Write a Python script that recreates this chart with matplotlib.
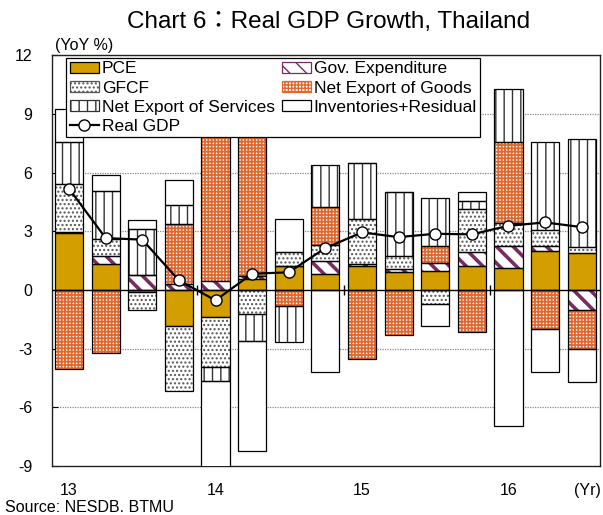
import matplotlib
matplotlib.use("Agg")
import matplotlib.pyplot as plt
import numpy as np

plt.rcParams["font.family"] = ["Liberation Sans", "Noto Sans CJK JP", "DejaVu Sans"]
plt.rcParams["axes.unicode_minus"] = False
plt.rcParams["hatch.linewidth"] = 1.0

quarters = ["13Q1", "13Q2", "13Q3", "13Q4", "14Q1", "14Q2", "14Q3", "14Q4",
            "15Q1", "15Q2", "15Q3", "15Q4", "16Q1", "16Q2", "16Q3"]
year_labels = ["13", "14", "15", "16"]

pce = [2.91, 1.33, -0.10, -1.86, -1.38, 0.56, 1.20, 0.83, 1.24, 0.90, 0.98, 1.24, 1.12, 2.00, 1.89]
gov = [0.05, 0.42, 0.75, 0.30, 0.44, 0.13, 0.00, 0.63, 0.07, 0.17, 0.40, 0.70, 1.10, 0.26, -1.04]
gfcf = [2.46, 0.85, -0.90, -3.31, -2.57, -1.22, 0.74, 0.85, 2.31, 0.64, -0.70, 2.21, 1.20, 0.82, 0.30]
net_goods = [-4.03, -3.21, 0.00, 3.07, 9.20, 8.37, -0.80, 1.92, -3.52, -2.28, 0.84, -2.14, 4.16, -1.99, -1.97]
net_services = [2.13, 2.47, 2.36, 0.98, -0.68, -1.40, -1.87, 2.13, 2.86, 3.27, 2.47, 0.42, 2.69, 4.47, 5.51]
inventories = [1.70, 0.81, 0.48, 1.28, -5.60, -5.61, 1.68, -4.18, 0.00, 0.00, -1.12, 0.41, -6.96, -2.19, -1.68]
real_gdp = [5.17, 2.65, 2.57, 0.49, -0.53, 0.83, 0.90, 2.14, 2.94, 2.70, 2.87, 2.84, 3.28, 3.45, 3.21]

# label, values, face, hatch, hatch colour, hatch width
series = [
    ("PCE", pce, "#D39E00", None, None, 1.0),
    ("Gov. Expenditure", gov, "white", "\\\\", "#7A2B63", 2.6),
    ("GFCF", gfcf, "white", "....", "#555555", 1.0),
    ("Net Export of Goods", net_goods, "white", "+++++", "#E0672E", 1.25),
    ("Net Export of Services", net_services, "white", "||", "#333333", 1.0),
    ("Inventories+Residual", inventories, "white", None, None, 1.0),
]

fig = plt.figure(figsize=(6.03, 5.15), dpi=100)
ax = fig.add_axes([0.086, 0.095, 0.909, 0.798])

x = np.arange(len(quarters))
width = 0.77
pos_base = np.zeros(len(x))
neg_base = np.zeros(len(x))
handles = {}
for label, vals, face, hatch, hcol, hlw in series:
    vals = np.array(vals)
    bottom = np.where(vals >= 0, pos_base, neg_base)
    with plt.rc_context({"hatch.linewidth": hlw}):
        if hatch:
            ax.bar(x, vals, width, bottom=bottom, color=face, hatch=hatch,
                   edgecolor=hcol, linewidth=0, zorder=3)
        else:
            ax.bar(x, vals, width, bottom=bottom, color=face, linewidth=0, zorder=3)
        handles[label] = plt.Rectangle((0, 0), 1, 1, facecolor=face, hatch=hatch,
                                       edgecolor=hcol if hcol else "black", linewidth=0.9)
    ax.bar(x, vals, width, bottom=bottom, facecolor="none",
           edgecolor="black", linewidth=0.9, zorder=4)
    pos_base += np.where(vals >= 0, vals, 0)
    neg_base += np.where(vals < 0, vals, 0)

line, = ax.plot(x, real_gdp, color="black", linewidth=1.6, marker="o",
                markersize=8, markerfacecolor="white", markeredgecolor="black",
                markeredgewidth=1.0, zorder=6, label="Real GDP")

ax.axhline(0, color="black", linewidth=1.0, zorder=5)
ax.vlines([3.5, 7.5, 11.5], -0.25, 0.25, color="black", linewidth=1.0, zorder=5)

ax.set_xlim(-0.47, 14.5)
ax.set_ylim(-9, 12)
ax.set_yticks(np.arange(-9, 13, 3))
ax.tick_params(axis="y", direction="in", length=4, labelsize=11.5, pad=14)
ax.set_xticks([0, 4, 8, 12])
ax.set_xticklabels(year_labels)
ax.tick_params(axis="x", length=0, labelsize=11.5, pad=12)
for yv in [-6, -3, 3, 6, 9, 12]:
    ax.axhline(yv, color="#888888", linewidth=0.9, linestyle=(0, (1, 1)), zorder=1)
for sp in ax.spines.values():
    sp.set_linewidth(1.0)
    sp.set_color("#222222")

order = ["PCE", "GFCF", "Net Export of Services", "Real GDP",
         "Gov. Expenditure", "Net Export of Goods", "Inventories+Residual"]
hdl = [line if k == "Real GDP" else handles[k] for k in order]
leg = ax.legend(hdl, order, ncol=2, loc="upper left", bbox_to_anchor=(0.026, 0.993),
                fontsize=12.5, frameon=True, fancybox=False, edgecolor="black",
                framealpha=1, borderpad=0.2, labelspacing=0.24, handlelength=1.7,
                handleheight=0.6, handletextpad=0.15, columnspacing=0.4, borderaxespad=0)
leg.get_frame().set_linewidth(0.9)
leg.set_zorder(10)

fig.text(0.545, 0.957, "Chart 6：Real GDP Growth, Thailand", ha="center", va="center",
         fontsize=17.5)
fig.text(0.092, 0.912, "(YoY %)", ha="left", va="center", fontsize=11.5)
fig.text(0.996, 0.048, "(Yr)", ha="right", va="center", fontsize=11.5)
fig.text(0.008, 0.014, "Source: NESDB. BTMU", ha="left", va="center", fontsize=11.5)

fig.savefig("out.png", dpi=100)
